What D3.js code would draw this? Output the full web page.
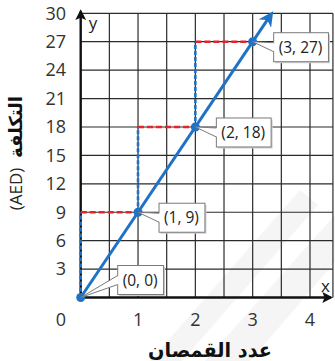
<!DOCTYPE html>
<html>
<head>
<meta charset="utf-8">
<script src="https://cdn.jsdelivr.net/npm/d3@7"></script>
<style>
  body { margin: 0; background: #fff; }
  svg { display: block; }
  .tick-lbl { font-family: "Open Sans", "Noto Sans", sans-serif; font-size: 18px; fill: #333; }
  .box-lbl { font-family: "Open Sans", "Noto Sans", sans-serif; font-size: 15.5px; fill: #222; }
  .ax-title { font-family: "DejaVu Sans", sans-serif; font-weight: bold; fill: #111; }
</style>
</head>
<body>
<div id="chart"></div>
<script>
// Data
var xVals = [0, 1, 2, 3];
var yVals = [0, 9, 18, 27];
var pointLabels = ["(0, 0)", "(1, 9)", "(2, 18)", "(3, 27)"];
var lineEnd = [3.3, 29.7];
var xTicks = [1, 2, 3, 4];
var yTicks = [3, 6, 9, 12, 15, 18, 21, 24, 27, 30];
var xGrid = [0.5, 1, 1.5, 2, 2.5, 3, 3.5, 4, 4.4];
var xTitle = "عدد القمصان";
var yTitleAr = "التكلفة";
var yTitleUnit = "(AED)";

var width = 335, height = 361;
var x = d3.scaleLinear().domain([0, 4]).range([80.7, 310]);
var y = d3.scaleLinear().domain([0, 30]).range([297.5, 13.3]);

var svg = d3.select("#chart").append("svg")
  .attr("width", width)
  .attr("height", height);

var defs = svg.append("defs");
// arrow heads
defs.append("marker")
  .attr("id", "blueArrow")
  .attr("viewBox", "0 0 10 10")
  .attr("refX", 6).attr("refY", 5)
  .attr("markerWidth", 5).attr("markerHeight", 5)
  .attr("orient", "auto")
  .append("path").attr("d", "M0,0 L10,5 L0,10 L3,5 Z").attr("fill", "#1f72c6");
defs.append("marker")
  .attr("id", "blackArrow")
  .attr("viewBox", "0 0 10 10")
  .attr("refX", 8).attr("refY", 5)
  .attr("markerWidth", 4.5).attr("markerHeight", 4.5)
  .attr("orient", "auto")
  .append("path").attr("d", "M0,0 L10,5 L0,10 L2,5 Z").attr("fill", "#111");

// faint watermark shapes
var wm = svg.append("g").attr("fill", "#f5f5f5");
wm.append("path").attr("d", "M205,361 L335,215 L335,262 L250,361 Z");
wm.append("path").attr("d", "M150,361 L300,190 L318,205 L182,361 Z");

// grid
var grid = svg.append("g").attr("stroke", "#2b2b2b").attr("stroke-width", 1.2);
grid.selectAll(".vg").data(xGrid).enter().append("line")
  .attr("x1", function(d){ return x(d); }).attr("x2", function(d){ return x(d); })
  .attr("y1", y(30)).attr("y2", y(0));
grid.selectAll(".hg").data(yTicks).enter().append("line")
  .attr("x1", x(0)).attr("x2", x(4.4))
  .attr("y1", function(d){ return y(d); }).attr("y2", function(d){ return y(d); });

// axes
svg.append("line")
  .attr("x1", x(0)).attr("y1", y(0)).attr("x2", x(0)).attr("y2", y(30) - 2)
  .attr("stroke", "#111").attr("stroke-width", 2.4)
  .attr("marker-end", "url(#blackArrow)");
svg.append("line")
  .attr("x1", x(0)).attr("y1", y(0)).attr("x2", 331).attr("y2", y(0))
  .attr("stroke", "#111").attr("stroke-width", 2.4)
  .attr("marker-end", "url(#blackArrow)");
svg.append("text").attr("class", "box-lbl").attr("x", x(0) + 8).attr("y", y(30) + 16)
  .style("font-size", "17px").text("y");
svg.append("text").attr("class", "box-lbl").attr("x", 321).attr("y", y(0) - 6)
  .style("font-size", "17px").text("x");

// tick labels
svg.selectAll(".ytl").data(yTicks).enter().append("text")
  .attr("class", "tick-lbl")
  .attr("x", 66).attr("y", function(d){ return y(d); })
  .attr("dy", "0.35em").attr("text-anchor", "end")
  .text(function(d){ return d; });
svg.selectAll(".xtl").data(xTicks).enter().append("text")
  .attr("class", "tick-lbl")
  .attr("x", function(d){ return x(d); }).attr("y", 326)
  .attr("text-anchor", "middle")
  .text(function(d){ return d; });
svg.append("text").attr("class", "tick-lbl")
  .attr("x", 61).attr("y", 326).attr("text-anchor", "middle").text("0");

// staircase dashes
var steps = d3.range(xVals.length - 1);
svg.selectAll(".vdash").data(steps).enter().append("line")
  .attr("x1", function(i){ return x(xVals[i]); }).attr("x2", function(i){ return x(xVals[i]); })
  .attr("y1", function(i){ return y(yVals[i]); }).attr("y2", function(i){ return y(yVals[i + 1]); })
  .attr("stroke", "#1f72c6").attr("stroke-width", 2.6).attr("stroke-dasharray", "4,2");
svg.selectAll(".hdash").data(steps).enter().append("line")
  .attr("x1", function(i){ return x(xVals[i]); }).attr("x2", function(i){ return x(xVals[i + 1]); })
  .attr("y1", function(i){ return y(yVals[i + 1]); }).attr("y2", function(i){ return y(yVals[i + 1]); })
  .attr("stroke", "#e8212b").attr("stroke-width", 2.6).attr("stroke-dasharray", "6,3");

// main line with arrow
svg.append("line")
  .attr("x1", x(0)).attr("y1", y(0))
  .attr("x2", x(lineEnd[0])).attr("y2", y(lineEnd[1]))
  .attr("stroke", "#1f72c6").attr("stroke-width", 3)
  .attr("marker-end", "url(#blueArrow)");

svg.selectAll(".pt").data(xVals).enter().append("circle")
  .attr("cx", function(d){ return x(d); })
  .attr("cy", function(d, i){ return y(yVals[i]); })
  .attr("r", 4.5).attr("fill", "#1f72c6");

// callout boxes
var callouts = svg.append("g");
xVals.forEach(function(xv, i){
  var px = x(xv), py = y(yVals[i]);
  var dx = i === 0 ? 37 : 21;
  var dy = i === 0 ? -32 : -9;
  var bx = px + dx, by = py + dy, bh = 29;
  var g = callouts.append("g");
  var txt = g.append("text").attr("class", "box-lbl")
    .attr("x", bx + 5).attr("y", by + bh / 2).attr("dy", "0.36em")
    .text(pointLabels[i]);
  var bw = txt.node().getComputedTextLength() + 11;
  g.insert("rect", "text")
    .attr("x", bx + 1.5).attr("y", by + 1.5).attr("width", bw).attr("height", bh)
    .attr("fill", "#cfcfcf");
  g.insert("rect", "text")
    .attr("x", bx).attr("y", by).attr("width", bw).attr("height", bh)
    .attr("fill", "#fff").attr("stroke", "#7a7a7a").attr("stroke-width", 1);
  // tail
  g.insert("path", "text")
    .attr("d", "M" + (bx + 1) + "," + (by + 10) + " L" + px + "," + py + " L" + (bx + 1) + "," + (by + 19) + " Z")
    .attr("fill", "#fff").attr("stroke", "none");
  g.insert("path", "text")
    .attr("d", "M" + bx + "," + (by + 10) + " L" + px + "," + py + " L" + bx + "," + (by + 19))
    .attr("fill", "none").attr("stroke", "#7a7a7a").attr("stroke-width", 1);
});

// axis titles
svg.append("text").attr("class", "ax-title")
  .attr("x", 210).attr("y", 357).attr("text-anchor", "middle")
  .attr("textLength", 124).attr("lengthAdjust", "spacingAndGlyphs")
  .style("font-size", "20px")
  .text(xTitle);

// y title: unit at the bottom, arabic word above (rotated)
var yt = svg.append("g").attr("transform", "translate(22,143) rotate(-90)");
yt.append("text")
  .attr("x", -46).attr("y", 0)
  .attr("text-anchor", "middle")
  .style("font-family", "'Open Sans', sans-serif").style("font-size", "17px").style("fill", "#222")
  .text(yTitleUnit);
var ar = yt.append("text").attr("class", "ax-title")
  .attr("x", 0).attr("y", 0)
  .style("font-size", "18px")
  .text(yTitleAr);
// centre the arabic word on its measured box
var bb = ar.node().getBBox();
ar.attr("x", 16 - (bb.x + bb.width / 2));
</script>
</body>
</html>
